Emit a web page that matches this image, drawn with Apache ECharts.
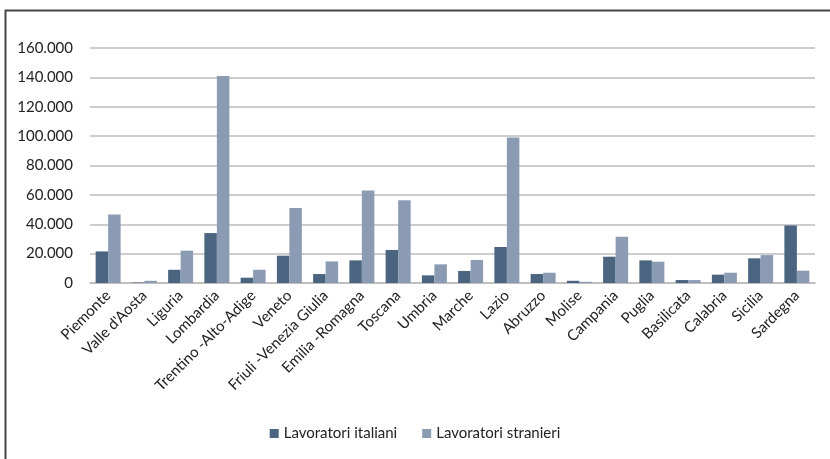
<!DOCTYPE html>
<html><head><meta charset="utf-8">
<script src="https://cdn.jsdelivr.net/npm/echarts@6/dist/echarts.min.js"></script>
<style>html,body{margin:0;padding:0;background:#fff}#c{width:830px;height:459px}</style>
</head><body><div id="c"></div>
<script>
const regions = ["Piemonte","Valle d'Aosta","Liguria","Lombardia","Trentino -Alto-Adige","Veneto","Friuli -Venezia Giulia","Emilia -Romagna","Toscana","Umbria","Marche","Lazio","Abruzzo","Molise","Campania","Puglia","Basilicata","Calabria","Sicilia","Sardegna"];
const italiani = [21500,300,9000,34000,3600,18600,6100,15400,22500,5200,8200,24500,6100,1500,17900,15400,2000,5700,16800,39200];
const stranieri = [46700,1500,22000,141000,9000,51000,14700,62900,56300,12700,15700,99000,7000,800,31500,14500,2000,7000,19000,8400];
const yTicks = [0,20000,40000,60000,80000,100000,120000,140000,160000];
const seriesNames = ["Lavoratori italiani","Lavoratori stranieri"];

const chart = echarts.init(document.getElementById('c'));
const fmt = v => v === 0 ? '0' : v.toLocaleString('de-DE');
chart.setOption({
  animation: false,
  textStyle: {fontFamily: 'Lato'},
  graphic: [
    {type:'line', shape:{x1:5.5,y1:10,x2:5.5,y2:459}, style:{stroke:'#444',lineWidth:2}},
    {type:'line', shape:{x1:5,y1:10.5,x2:830,y2:10.5}, style:{stroke:'#444',lineWidth:2}}
  ],
  grid: {left: 90, right: 15, top: 48, height: 235},
  legend: {
    bottom: 13, left: 'center',
    itemWidth: 9, itemHeight: 9, itemGap: 25,
    icon: 'rect',
    textStyle: {fontSize: 15, color: '#222', fontFamily: 'Lato'},
    data: seriesNames
  },
  xAxis: {
    type: 'category', data: regions,
    axisTick: {show: false},
    axisLine: {lineStyle: {color: '#bbb', width: 1.5}},
    axisLabel: {rotate: 45, fontSize: 15, color: '#222', interval: 0, margin: 10, fontFamily: 'Lato'}
  },
  yAxis: {
    type: 'value', min: 0, max: 160000, interval: 20000,
    axisLabel: {formatter: v => yTicks.includes(v) ? fmt(v) : '', fontSize: 15, color: '#222', margin: 17, fontFamily: 'Lato'},
    axisLine: {show: false}, axisTick: {show: false},
    splitLine: {lineStyle: {color: '#bdbdbd', width: 1.5}}
  },
  series: [
    {name: seriesNames[0], type: 'bar', data: italiani, barWidth: 12.5, barGap: '0%', itemStyle: {color: '#4b6581'}},
    {name: seriesNames[1], type: 'bar', data: stranieri, barWidth: 12.5, barGap: '0%', itemStyle: {color: '#8c9bb4'}}
  ]
});
</script></body></html>
